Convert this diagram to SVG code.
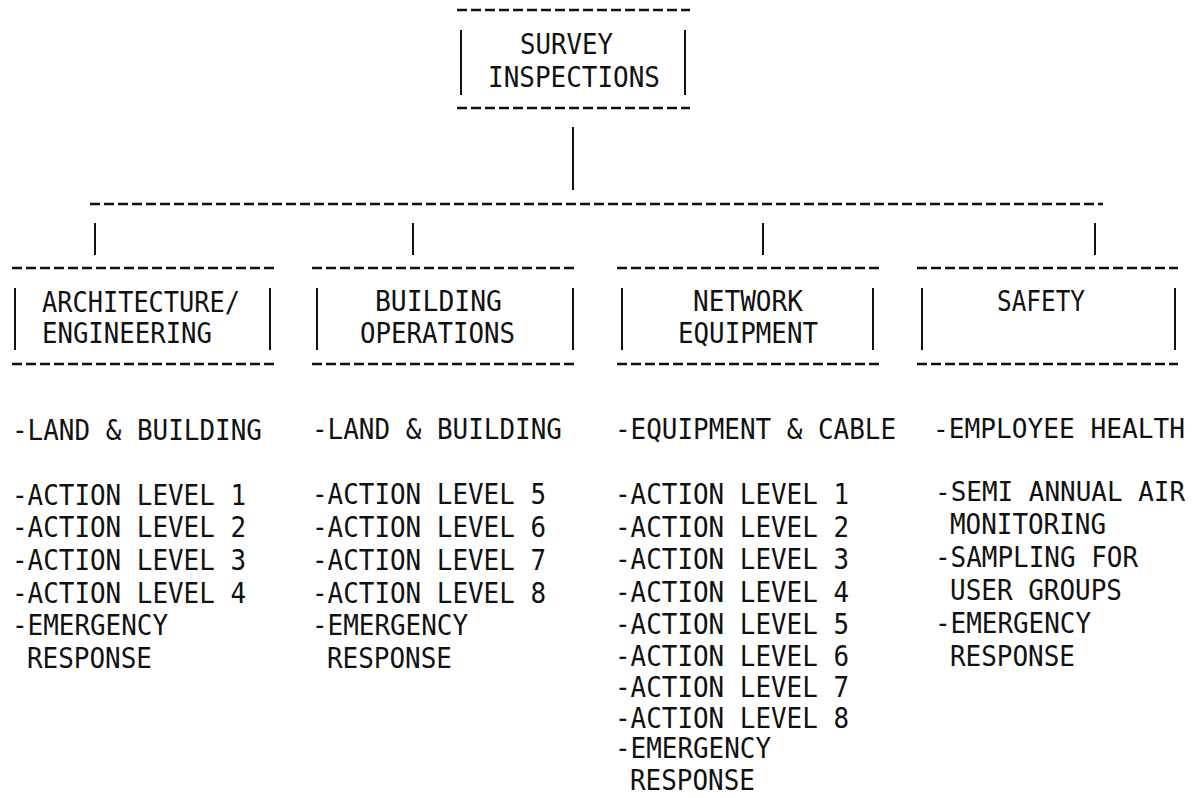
<svg xmlns="http://www.w3.org/2000/svg" width="1192" height="798" viewBox="0 0 1192 798">
<style>
.d{stroke:#111;stroke-width:2.4;stroke-dasharray:10 4;fill:none}
.s{stroke:#111;stroke-width:2;fill:none}
text{font-family:"DejaVu Sans Mono","Liberation Mono",monospace;fill:#111}
.h{font-size:29px}
.b{font-size:27.5px}
.n{font-size:26px}
</style>
<rect width="1192" height="798" fill="#fff"/>
<g id="connectors">
<line class="s" x1="573" y1="127" x2="573" y2="190"/>
<line class="d" x1="90" y1="204" x2="1103" y2="204"/>
<line class="s" x1="95" y1="223" x2="95" y2="255"/>
<line class="s" x1="413" y1="223" x2="413" y2="255"/>
<line class="s" x1="763" y1="223" x2="763" y2="255"/>
<line class="s" x1="1095" y1="223" x2="1095" y2="255"/>
</g>
<g id="survey-inspections">
<line class="d" x1="457" y1="10" x2="690" y2="10"/>
<line class="d" x1="457" y1="108" x2="690" y2="108"/>
<line class="s" x1="461" y1="30" x2="461" y2="95"/>
<line class="s" x1="685" y1="30" x2="685" y2="95"/>
<text class="h" x="520" y="54" textLength="93" lengthAdjust="spacingAndGlyphs">SURVEY</text>
<text class="h" x="488" y="87" textLength="172" lengthAdjust="spacingAndGlyphs">INSPECTIONS</text>
</g>
<g id="architecture-engineering">
<line class="d" x1="12" y1="268" x2="277" y2="268"/>
<line class="d" x1="12" y1="364" x2="277" y2="364"/>
<line class="s" x1="15" y1="288" x2="15" y2="350"/>
<line class="s" x1="270" y1="288" x2="270" y2="350"/>
<text class="h" x="42" y="312" textLength="198" lengthAdjust="spacingAndGlyphs">ARCHITECTURE/</text>
<text class="h" x="42" y="343" textLength="170" lengthAdjust="spacingAndGlyphs">ENGINEERING</text>
<text class="b" x="12" y="440" textLength="250" lengthAdjust="spacingAndGlyphs">-LAND &amp; BUILDING</text>
<text class="b" x="12" y="505" textLength="234" lengthAdjust="spacingAndGlyphs">-ACTION LEVEL 1</text>
<text class="b" x="12" y="537" textLength="234" lengthAdjust="spacingAndGlyphs">-ACTION LEVEL 2</text>
<text class="b" x="12" y="570" textLength="234" lengthAdjust="spacingAndGlyphs">-ACTION LEVEL 3</text>
<text class="b" x="12" y="603" textLength="234" lengthAdjust="spacingAndGlyphs">-ACTION LEVEL 4</text>
<text class="b" x="12" y="635" textLength="156" lengthAdjust="spacingAndGlyphs">-EMERGENCY</text>
<text class="b" x="27" y="668" textLength="125" lengthAdjust="spacingAndGlyphs">RESPONSE</text>
</g>
<g id="building-operations">
<line class="d" x1="312" y1="268" x2="578" y2="268"/>
<line class="d" x1="312" y1="364" x2="578" y2="364"/>
<line class="s" x1="317" y1="288" x2="317" y2="350"/>
<line class="s" x1="573" y1="288" x2="573" y2="350"/>
<text class="h" x="375" y="311" textLength="127" lengthAdjust="spacingAndGlyphs">BUILDING</text>
<text class="h" x="360" y="343" textLength="155" lengthAdjust="spacingAndGlyphs">OPERATIONS</text>
<text class="b" x="312" y="439" textLength="250" lengthAdjust="spacingAndGlyphs">-LAND &amp; BUILDING</text>
<text class="b" x="312" y="504" textLength="234" lengthAdjust="spacingAndGlyphs">-ACTION LEVEL 5</text>
<text class="b" x="312" y="537" textLength="234" lengthAdjust="spacingAndGlyphs">-ACTION LEVEL 6</text>
<text class="b" x="312" y="570" textLength="234" lengthAdjust="spacingAndGlyphs">-ACTION LEVEL 7</text>
<text class="b" x="312" y="603" textLength="234" lengthAdjust="spacingAndGlyphs">-ACTION LEVEL 8</text>
<text class="b" x="312" y="635" textLength="156" lengthAdjust="spacingAndGlyphs">-EMERGENCY</text>
<text class="b" x="327" y="668" textLength="125" lengthAdjust="spacingAndGlyphs">RESPONSE</text>
</g>
<g id="network-equipment">
<line class="d" x1="617" y1="268" x2="880" y2="268"/>
<line class="d" x1="617" y1="364" x2="880" y2="364"/>
<line class="s" x1="622" y1="288" x2="622" y2="350"/>
<line class="s" x1="873" y1="288" x2="873" y2="350"/>
<text class="h" x="693" y="311" textLength="110" lengthAdjust="spacingAndGlyphs">NETWORK</text>
<text class="h" x="678" y="343" textLength="140" lengthAdjust="spacingAndGlyphs">EQUIPMENT</text>
<text class="b" x="615" y="439" textLength="281" lengthAdjust="spacingAndGlyphs">-EQUIPMENT &amp; CABLE</text>
<text class="b" x="615" y="504" textLength="234" lengthAdjust="spacingAndGlyphs">-ACTION LEVEL 1</text>
<text class="b" x="615" y="537" textLength="234" lengthAdjust="spacingAndGlyphs">-ACTION LEVEL 2</text>
<text class="b" x="615" y="569" textLength="234" lengthAdjust="spacingAndGlyphs">-ACTION LEVEL 3</text>
<text class="b" x="615" y="602" textLength="234" lengthAdjust="spacingAndGlyphs">-ACTION LEVEL 4</text>
<text class="b" x="615" y="634" textLength="234" lengthAdjust="spacingAndGlyphs">-ACTION LEVEL 5</text>
<text class="b" x="615" y="666" textLength="234" lengthAdjust="spacingAndGlyphs">-ACTION LEVEL 6</text>
<text class="b" x="615" y="697" textLength="234" lengthAdjust="spacingAndGlyphs">-ACTION LEVEL 7</text>
<text class="b" x="615" y="728" textLength="234" lengthAdjust="spacingAndGlyphs">-ACTION LEVEL 8</text>
<text class="b" x="615" y="758" textLength="156" lengthAdjust="spacingAndGlyphs">-EMERGENCY</text>
<text class="b" x="630" y="790" textLength="125" lengthAdjust="spacingAndGlyphs">RESPONSE</text>
</g>
<g id="safety">
<line class="d" x1="917" y1="268" x2="1178" y2="268"/>
<line class="d" x1="917" y1="364" x2="1178" y2="364"/>
<line class="s" x1="922" y1="288" x2="922" y2="350"/>
<line class="s" x1="1175" y1="288" x2="1175" y2="350"/>
<text class="h" x="997" y="311" textLength="88" lengthAdjust="spacingAndGlyphs">SAFETY</text>
<text class="n" x="933" y="438" textLength="252" lengthAdjust="spacingAndGlyphs">-EMPLOYEE HEALTH</text>
<text class="n" x="935" y="501" textLength="250" lengthAdjust="spacingAndGlyphs">-SEMI ANNUAL AIR</text>
<text class="b" x="950" y="534" textLength="156" lengthAdjust="spacingAndGlyphs">MONITORING</text>
<text class="b" x="935" y="567" textLength="203" lengthAdjust="spacingAndGlyphs">-SAMPLING FOR</text>
<text class="b" x="950" y="600" textLength="172" lengthAdjust="spacingAndGlyphs">USER GROUPS</text>
<text class="b" x="935" y="633" textLength="156" lengthAdjust="spacingAndGlyphs">-EMERGENCY</text>
<text class="b" x="950" y="666" textLength="125" lengthAdjust="spacingAndGlyphs">RESPONSE</text>
</g>
</svg>
